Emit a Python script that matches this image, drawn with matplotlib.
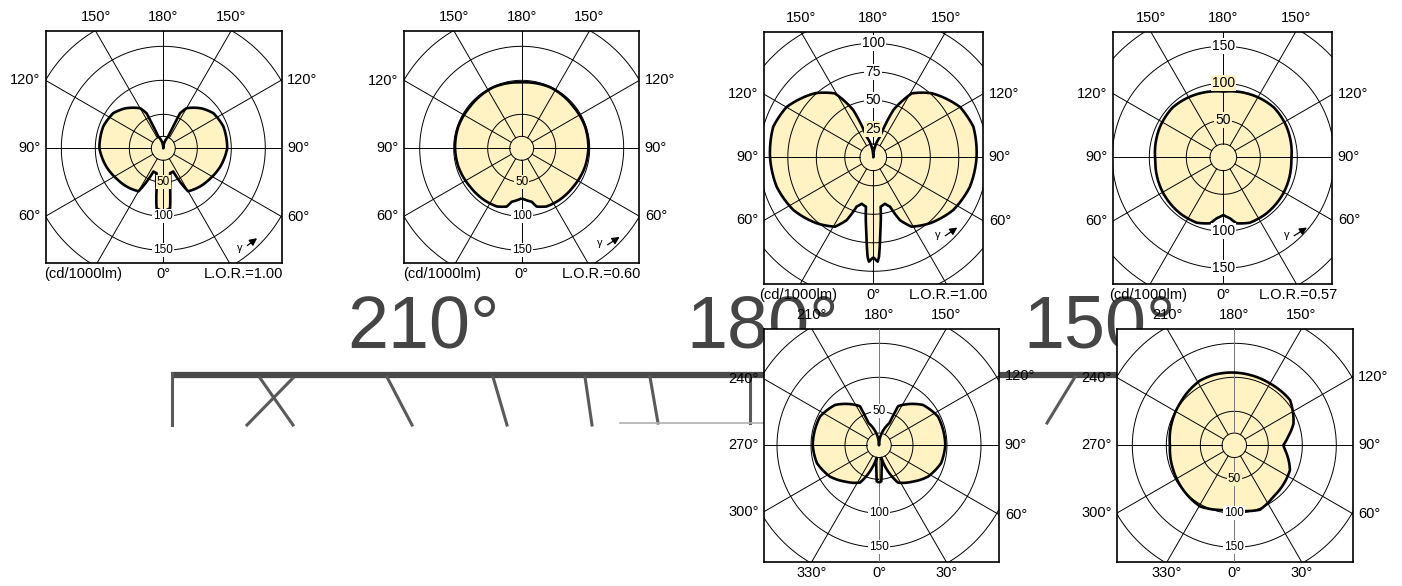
import numpy as np
import matplotlib
matplotlib.use('Agg')
import matplotlib.pyplot as plt
from matplotlib.path import Path
from matplotlib.patches import PathPatch

plt.rcParams['font.family'] = ['Liberation Sans', 'DejaVu Sans']

W, H = 1402, 586
FILL = '#fff3c4'

# luminous intensity (cd/1000lm) against gamma angle
# symmetric lamps: one half only, gamma 0 (down) .. 180 (up), mirrored later
gamma1 = [0, 3, 6.4, 9.5, 15, 23, 30, 44, 57, 72, 90, 110, 125, 136, 150, 154.5, 155.5, 157, 180]
int1 = [92, 91, 89, 60, 38, 37, 73, 78, 82, 88, 94, 94, 90, 81.5, 68, 57, 35, 19, 0]

gamma2 = [0, 10.6, 14.4, 23, 35, 53.5, 74, 90, 109, 129, 155, 180]
int2 = [73.5, 80, 88.5, 93, 94, 94.6, 97, 98, 98.5, 97.6, 99, 97]

gamma3 = [0, 2.4, 3.3, 5.3, 8.5, 14, 18.7, 23, 28.9, 40.7, 56.6, 73, 90, 107, 120, 137.7, 149, 157, 162, 180]
int3 = [87.7, 91.6, 87.3, 66, 43.8, 42, 45.7, 60, 69.5, 76.3, 84, 88.6, 90.6, 91.8, 88, 76, 65.4, 45, 19, 0]

gamma4 = [0, 6.3, 11.4, 22, 37.7, 59, 88, 116, 134.6, 151, 180]
int4 = [78, 83, 91, 95.4, 95.7, 94.6, 92, 95, 96, 93.5, 88.8]

gamma5 = [0, 3.7, 5.7, 11, 27, 43, 57.4, 74, 90, 116, 132.5, 154, 155, 180]
int5 = [55, 53, 37, 19, 61.6, 73, 85.5, 95, 97.5, 96.5, 87.8, 64, 36, 0]

# asymmetric lamp: full turn, 0 down, 90 right, 180 up, 270 left
phi6 = [0, 21.7, 37, 66, 84.7, 90, 99, 110, 129, 150, 167.4, 180, 196.6, 208, 232,
        250.7, 270, 292, 311, 331, 347.5, 360]
int6 = [95, 102, 95, 89.6, 75, 72, 80, 92.6, 105.6, 105, 106, 107, 108, 107.7, 101,
        97.7, 94.6, 96.8, 99.7, 103, 97.4, 95]

top_row_angles = ['150°', '180°', '150°', '120°', '90°', '60°', '120°', '90°', '60°']
bottom_row_angles = ['210°', '180°', '150°', '240°', '270°', '300°', '120°', '90°', '60°']
bottom_row_foot = ['330°', '0°', '30°']
lor = ['L.O.R.=1.00', 'L.O.R.=0.60', 'L.O.R.=1.00', 'L.O.R.=0.57']
unit = '(cd/1000lm)'

grid_a = [50, 100, 150, 200]
grid_b = [25, 50, 75, 100, 125]


def mirror(g, v):
    g = np.array(g, dtype=float)
    v = np.array(v, dtype=float)
    th = np.concatenate([g, 360 - g[::-1]])
    return np.radians(th), np.concatenate([v, v[::-1]])


fig = plt.figure(figsize=(W / 100, H / 100), dpi=100)

# enlarged, blurred copy of a diagram header sitting behind the charts
ax0 = fig.add_axes([0, 0, 1, 1], zorder=0)
ax0.set_xlim(0, W)
ax0.set_ylim(H, 0)
ax0.axis('off')
for txt, xc in zip(['210°', '180°', '150°'], [423, 763, 1100]):
    ax0.text(xc, 348, txt, fontsize=53, color='#454545', ha='center', va='baseline')
ax0.plot([172, 1120], [375, 375], color='#4a4a4a', lw=4.5, solid_capstyle='butt')
segs = [((172, 373), (172, 425)), ((260, 378), (293, 425)), ((293, 378), (247, 425)),
        ((387, 377), (412, 425)), ((493, 377), (507, 425)), ((585, 377), (592, 425)),
        ((650, 377), (658, 423)), ((750, 377), (750, 423)), ((1075, 377), (1047, 423))]
for (xa, ya), (xb, yb) in segs:
    ax0.plot([xa, xb], [ya, yb], color='#5a5a5a', lw=2.2)
ax0.plot([620, 765], [423, 423], color='#b0b0b0', lw=1.2)


def diagram(box, centre, s, th, r, grid, inner, outer, foot, rlabels, rsize, vcol='k',
            gam=None, foot_dx=None):
    x0, y0, x1, y1 = box
    cx, cy = centre
    ax = fig.add_axes([x0 / W, 1 - y1 / H, (x1 - x0) / W, (y1 - y0) / H], zorder=2)
    ax.set_facecolor('white')
    xl, xr = -(cx - x0) / s, (x1 - cx) / s
    yb, yt = -(y1 - cy) / s, (cy - y0) / s
    ax.set_xlim(xl, xr)
    ax.set_ylim(yb, yt)
    ax.set_xticks([])
    ax.set_yticks([])
    for sp in ax.spines.values():
        sp.set_linewidth(1.2)

    # polar layer, same centre and scale, clipped to the box
    R = 180
    pa = fig.add_axes([(cx - R) / W, 1 - (cy + R) / H, 2 * R / W, 2 * R / H],
                      projection='polar', zorder=3)
    pa.set_theta_zero_location('S')
    pa.set_theta_direction(1)
    pa.set_ylim(0, R / s)
    pa.set_axis_off()
    pa.patch.set_alpha(0)

    # curve drawn in (theta, r) space so the polar transform bends it into arcs
    curve = Path(np.column_stack([th, r])).interpolated(24)
    arts = []
    arts.append(pa.add_patch(PathPatch(curve, transform=pa.transData, fc=FILL, ec='none', zorder=1)))
    t = np.linspace(0, 2 * np.pi, 361)
    for rr in list(grid) + [inner]:
        arts += pa.plot(t, np.full_like(t, rr), color='k', lw=0.7, zorder=2)
    for a in range(0, 360, 30):
        c = vcol if a in (0, 180) else 'k'
        arts += pa.plot([np.radians(a)] * 2, [inner, R / s], color=c, lw=0.7, zorder=2)
    arts.append(pa.add_patch(PathPatch(curve, transform=pa.transData, fc='none', ec='k',
                                       lw=1.9, joinstyle='round', zorder=3)))
    for art in arts:
        art.set_clip_path(ax.patch)

    for val, side, bg in rlabels:
        pa.text(0 if side < 0 else np.pi, val, str(val), ha='center', va='center',
                fontsize=rsize, zorder=4,
                bbox=dict(boxstyle='square,pad=0.08', fc=bg, ec='none'))

    tn = np.tan(np.radians(30))
    kw = dict(textcoords='offset points', fontsize=10.5, annotation_clip=False)
    for txt, xp in zip(outer[:3], [-yt * tn, 0, yt * tn]):
        ax.annotate(txt, (xp, yt), xytext=(0, 5), ha='center', va='bottom', **kw)
    for txt, yp in zip(outer[3:6], [-xl * tn, 0, xl * tn]):
        ax.annotate(txt, (xl, yp), xytext=(-4, 0), ha='right', va='center', **kw)
    for txt, yp in zip(outer[6:9], [xr * tn, 0, -xr * tn]):
        ax.annotate(txt, (xr, yp), xytext=(4, 0), ha='left', va='center', **kw)
    if foot_dx is None:
        fx = [yb * tn, 0, -yb * tn]
    else:
        fx = [-foot_dx / s, 0, foot_dx / s]
    for txt, xp in zip(foot, fx):
        ax.annotate(txt, (xp, yb), xytext=(0, -3), ha='center', va='top', **kw)

    if gam is not None:
        gx, gy, ax1, ay1, ax2, ay2 = gam
        ax.text(gx, gy, 'γ', transform=ax.transAxes, fontsize=8, ha='center', va='center')
        ax.annotate('', xy=(ax2, ay2), xytext=(ax1, ay1), xycoords='axes fraction',
                    arrowprops=dict(arrowstyle='-|>', color='k', lw=0.9, mutation_scale=11))
    return ax


W_, Y_ = 'white', FILL

t1, r1 = mirror(gamma1, int1)
diagram((45.7, 31, 281.7, 263), (163.3, 148.3), 0.68, t1, r1, grid_a, 17.6,
        top_row_angles, [unit, '0°', lor[0]],
        [(50, -1, Y_), (100, -1, W_), (150, -1, W_)], 8.5,
        gam=(0.823, 0.065, 0.845, 0.068, 0.905, 0.114), foot_dx=80)

t2, r2 = mirror(gamma2, int2)
diagram((404.3, 31, 639.3, 263.3), (521.7, 148.3), 0.68, t2, r2, grid_a, 17.6,
        top_row_angles, [unit, '0°', lor[1]],
        [(50, -1, Y_), (100, -1, W_), (150, -1, W_)], 8.5,
        gam=(0.833, 0.086, 0.855, 0.073, 0.926, 0.12), foot_dx=80)

t3, r3 = mirror(gamma3, int3)
diagram((764, 31.7, 983.3, 284), (873.3, 157.3), 1.14, t3, r3, grid_b, 11.7,
        top_row_angles, [unit, '0°', lor[2]],
        [(25, 1, Y_), (50, 1, W_), (75, 1, W_), (100, 1, W_)], 10,
        gam=(0.791, 0.194, 0.816, 0.185, 0.892, 0.230), foot_dx=75)

t4, r4 = mirror(gamma4, int4)
diagram((1113.3, 31.7, 1332.3, 284), (1223.3, 157.3), 0.74, t4, r4, grid_a, 18,
        top_row_angles, [unit, '0°', lor[3]],
        [(50, 1, Y_), (100, 1, Y_), (150, 1, W_), (100, -1, W_), (150, -1, W_)], 10,
        gam=(0.792, 0.194, 0.815, 0.185, 0.895, 0.230), foot_dx=75)

t5, r5 = mirror(gamma5, int5)
diagram((764.3, 329, 999.3, 561.7), (879, 445.3), 0.68, t5, r5, grid_a, 18,
        bottom_row_angles, bottom_row_foot,
        [(50, 1, W_), (100, -1, W_), (150, -1, W_)], 8.5, vcol='#777777')

diagram((1117.3, 329, 1352.7, 561.7), (1234.3, 445.3), 0.68, np.radians(phi6), np.array(int6, float),
        grid_a, 18, bottom_row_angles, bottom_row_foot,
        [(50, -1, Y_), (100, -1, W_), (150, -1, W_)], 8.5, vcol='#777777')

fig.savefig('out.png', dpi=100)
